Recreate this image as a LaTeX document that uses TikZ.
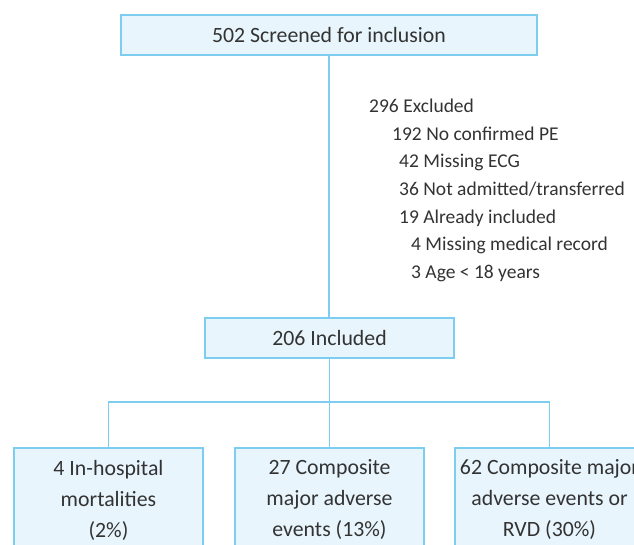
\documentclass[tikz,border=0pt]{standalone}
\usepackage{fontspec}
\setmainfont{Carlito}
\definecolor{boxfill}{RGB}{232,245,252}
\definecolor{boxline}{RGB}{125,205,240}
\definecolor{txtgray}{RGB}{51,51,51}
\tikzset{
  flowbox/.style={draw=boxline, fill=boxfill, line width=1.2pt, text=txtgray,
    font=\fontsize{21.8}{31}\selectfont, align=center, inner sep=0pt},
  flowline/.style={draw=boxline, line width=1.2pt},
  extext/.style={text=txtgray, font=\fontsize{19.5}{27.7}\selectfont,
    inner sep=0pt, anchor=base west}
}
\begin{document}
\begin{tikzpicture}[x=1pt,y=-1pt]
    \useasboundingbox (0,0) rectangle (634,545);
    \fill[white] (0,0) rectangle (634,545);

    % boxes
    \node[flowbox, minimum width=416pt, minimum height=40pt] 
        (screen) at (329,35) {502 Screened for inclusion};
    \node[flowbox, minimum width=249pt, minimum height=40pt] 
        (incl) at (329.5,338) {206 Included};
    \node[flowbox, minimum width=189pt, minimum height=104pt] 
        (mort) at (108.5,500) {4 In-hospital\\mortalities\\(2\%)};
    \node[flowbox, minimum width=189pt, minimum height=104pt] 
        (mace) at (329.5,500) {27 Composite\\major adverse\\events (13\%)};
    \node[flowbox, minimum width=189pt, minimum height=104pt] 
        (rvd) at (549.5,500) {62 Composite major\\adverse events or\\RVD (30\%)};

    % excluded list
    \node[extext] (ex0) at (369,112.5) {296 Excluded};
    \node[extext] (ex1) at (392,140.2) {192 No confirmed PE};
    \node[extext] (ex2) at (399,167.9) {42 Missing ECG};
    \node[extext] (ex3) at (399,195.6) {36 Not admitted/transferred};
    \node[extext] (ex4) at (399,223.3) {19 Already included};
    \node[extext] (ex5) at (411,251.0) {4 Missing medical record};
    \node[extext] (ex6) at (411,278.7) {3 Age < 18 years};

    % connectors
    \coordinate (split) at (329.5,402);
    \draw[flowline] (screen.south) -- (screen.south |- incl.north);
    \draw[flowline] (incl.south) -- (split);
    \draw[flowline] (split) -| (mort.north);
    \draw[flowline] (split) -- (mace.north);
    \draw[flowline] (split) -| (rvd.north);
\end{tikzpicture}
\end{document}
